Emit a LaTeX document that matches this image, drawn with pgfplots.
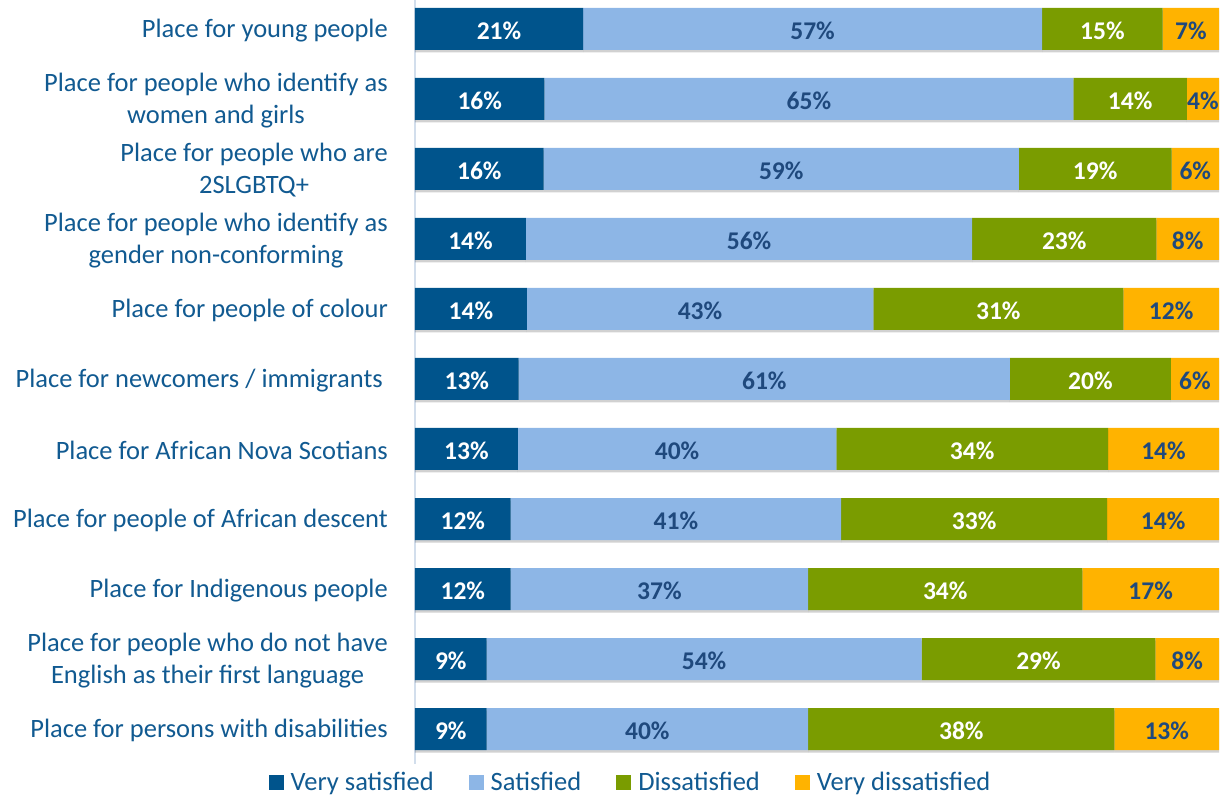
\documentclass[border=0pt]{standalone}
\usepackage{fontspec}
\setmainfont{Carlito}
\usepackage{pgfplots}
\usepackage{pgfplotstable}
\usetikzlibrary{shadows}
\pgfplotsset{compat=1.18}
\definecolor{cVS}{RGB}{0,84,140}
\definecolor{cS}{RGB}{141,182,230}
\definecolor{cD}{RGB}{122,156,0}
\definecolor{cVD}{RGB}{255,179,0}
\definecolor{txtS}{RGB}{31,73,125}
\definecolor{labC}{RGB}{17,90,145}
\definecolor{axC}{RGB}{210,222,236}

\pgfplotstableread{
row vs s d vd lvs ls ld lvd
0 20.9 57.1 15.0 7.0 21 57 15 7
1 16.1 65.8 14.1 4.0 16 65 14 4
2 16.0 59.1 19.0 5.9 16 59 19 6
3 13.8 55.5 22.9 7.8 14 56 23 8
4 13.9 43.1 31.1 11.9 14 43 31 12
5 12.9 61.1 20.0 6.0 13 61 20 6
6 12.8 39.6 33.8 13.8 13 40 34 14
7 11.9 41.1 33.1 13.9 12 41 33 14
8 11.9 37.0 34.1 17.0 12 37 34 17
9 8.9 54.1 29.1 7.9 9 54 29 8
10 8.9 40.0 38.1 13.0 9 40 38 13
}\data

\pgfplotsset{common/.style={
  at={(0,0)}, anchor=south west,
  scale only axis, width=804bp, height=764bp,
  xmin=0, xmax=100,
  y dir=reverse, ymin=-0.414, ymax=10.5},
  lab/.style={draw=none, mark=none, point meta=explicit symbolic,
    nodes near coords={\pgfplotspointmeta\%},
    nodes near coords align={center},
    every node near coord/.append style={font=\fontsize{25.5bp}{30bp}\selectfont\bfseries,
      anchor=center, yshift=-1.5bp, text=#1}},
  shad/.style={drop shadow={shadow xshift=0bp, shadow yshift=-2.5bp, opacity=0.18, fill=black}}}

\begin{document}
\begin{tikzpicture}
\begin{axis}[
  common,
  xbar stacked, bar width=42bp,
  axis x line=none,
  axis y line=left,
  y axis line style={draw=axC, line width=1.5bp, -},
  ytick={0,...,10},
  major tick length=0pt,
  yticklabels={
    {Place for young people},
    {Place for people who identify as\\women and girls},
    {Place for people who are\\2SLGBTQ+},
    {Place for people who identify as\\gender non-conforming},
    {Place for people of colour},
    {Place for newcomers / immigrants\hspace*{5bp}},
    {Place for African Nova Scotians},
    {Place for people of African descent},
    {Place for Indigenous people},
    {Place for people who do not have\\English as their first language},
    {Place for persons with disabilities}},
  yticklabel style={align=center, inner sep=0pt, anchor=east, xshift=-27bp, yshift=-1.5bp,
    font=\fontsize{26.5bp}{32bp}\selectfont, text=labC},
  legend style={at={(0.2668,-0.02356)}, anchor=center, draw=none, fill=none,
    font=\fontsize{26.5bp}{30bp}\selectfont, text=labC, inner sep=0pt,
    nodes={inner sep=0pt},
    /tikz/every odd column/.style={column sep=7bp},
    /tikz/every even column/.style={column sep=35bp}},
  legend columns=4,
  legend image code/.code={\fill[#1] (0bp,-7.5bp) rectangle (15bp,7.5bp);},
]
\addlegendimage{fill=cVS, draw=none}
\addlegendimage{fill=cS, draw=none}
\addlegendimage{fill=cD, draw=none}
\addlegendimage{fill=cVD, draw=none}
\addplot[fill=cVS, draw=none, shad, forget plot] table[x=vs, y=row] {\data};
\addplot[fill=cS, draw=none, shad, forget plot] table[x=s, y=row] {\data};
\addplot[fill=cD, draw=none, shad, forget plot] table[x=d, y=row] {\data};
\addplot[fill=cVD, draw=none, shad, forget plot] table[x=vd, y=row] {\data};
\legend{Very satisfied, Satisfied, Dissatisfied, Very dissatisfied}
\end{axis}
\begin{axis}[common, hide axis]
\addplot[lab=white] table[x expr=\thisrow{vs}/2, y=row, meta=lvs] {\data};
\addplot[lab=txtS] table[x expr=\thisrow{vs}+\thisrow{s}/2, y=row, meta=ls] {\data};
\addplot[lab=white] table[x expr=\thisrow{vs}+\thisrow{s}+\thisrow{d}/2, y=row, meta=ld] {\data};
\addplot[lab=txtS] table[x expr=\thisrow{vs}+\thisrow{s}+\thisrow{d}+\thisrow{vd}/2, y=row, meta=lvd] {\data};
\end{axis}
\pgfresetboundingbox
\useasboundingbox (-415bp,-34bp) rectangle (805bp,764bp);
\end{tikzpicture}
\end{document}
